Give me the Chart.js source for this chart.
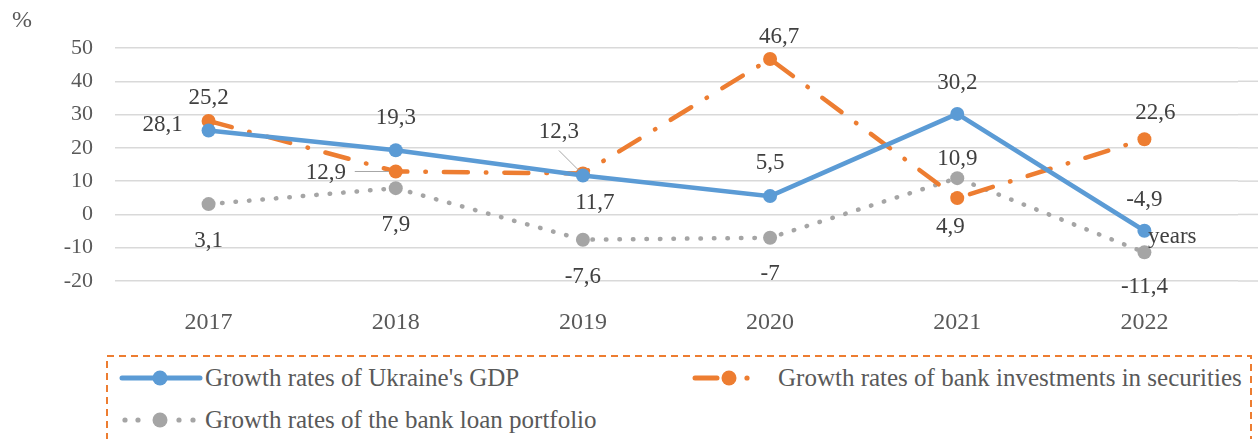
<!DOCTYPE html>
<html>
<head>
<meta charset="utf-8">
<script src="https://cdn.jsdelivr.net/npm/chart.js@4.4.0/dist/chart.umd.min.js"></script>
<style>
  html, body { margin: 0; padding: 0; background: #fff; }
  #wrap { position: relative; width: 1258px; height: 439px; overflow: hidden; }
  #chartBox { position: absolute; left: 0; top: 0; width: 1258px; height: 350px; }
  #pct { position: absolute; left: 12px; top: 6px; font-family: 'Liberation Serif', 'Times New Roman', serif; font-size: 24px; color: #595959; }
  #legend { position: absolute; left: 106px; top: 355px; width: 1146px; height: 120px; }
  #legend .frame { position: absolute; left: 0; top: 0; }
  .item { position: absolute; height: 30px; font-family: 'Liberation Serif', 'Times New Roman', serif; font-size: 25px; color: #595959; line-height: 30px; white-space: nowrap; }
  .item svg { position: absolute; top: 0; }
  .item span { position: absolute; top: 0; }
</style>
</head>
<body>
<div id="wrap">
  <div id="chartBox"><canvas id="chart"></canvas></div>
  <div id="pct">%</div>
  <div id="legend">
    <svg class="frame" width="1146" height="120"><rect x="1" y="1" width="1144" height="200" fill="none" stroke="#ed7d31" stroke-width="2" stroke-dasharray="7 5"/></svg>
    <div class="item" style="left:2px;top:8px;width:500px;">
      <svg width="98" height="30"><line x1="14" y1="15" x2="92" y2="15" stroke="#5b9bd5" stroke-width="5" stroke-linecap="round"/><circle cx="52" cy="15" r="7.5" fill="#5b9bd5"/></svg>
      <span style="left:97px;">Growth rates of Ukraine's GDP</span>
    </div>
    <div class="item" style="left:577px;top:8px;width:566px;">
      <svg width="90" height="30"><line x1="12" y1="15" x2="34" y2="15" stroke="#ed7d31" stroke-width="5" stroke-linecap="round"/><circle cx="46" cy="15" r="7.5" fill="#ed7d31"/><circle cx="64" cy="15" r="2.6" fill="#ed7d31"/></svg>
      <span style="left:95px;">Growth rates of bank investments in securities</span>
    </div>
    <div class="item" style="left:2px;top:50px;width:500px;">
      <svg width="98" height="30"><circle cx="17" cy="15" r="2.6" fill="#a5a5a5"/><circle cx="30" cy="15" r="2.6" fill="#a5a5a5"/><circle cx="52" cy="15" r="7.5" fill="#a5a5a5"/><circle cx="71" cy="15" r="2.6" fill="#a5a5a5"/><circle cx="85" cy="15" r="2.6" fill="#a5a5a5"/></svg>
      <span style="left:97px;">Growth rates of the bank loan portfolio</span>
    </div>
  </div>
</div>
<script>
const years = ["2017", "2018", "2019", "2020", "2021", "2022"];
const gdpGrowth = [25.2, 19.3, 11.7, 5.5, 30.2, -4.9];
const securitiesGrowth = [28.1, 12.9, 12.3, 46.7, 4.9, 22.6];
const loanGrowth = [3.1, 7.9, -7.6, -7, 10.9, -11.4];
const yTicks = [-20, -10, 0, 10, 20, 30, 40, 50];

const serif = "'Liberation Serif', 'Times New Roman', serif";

// label offsets from each point, px
const labelOffsets = [
    [[0, -33], [0, -32], [12, 27], [0, -33], [0, -31], [0, -31]],
    [[-46, 4], [-70, 1], [-24, -42], [9, -22], [-7, 29], [11, -26]],
    [[0, 37], [0, 37], [0, 37], [0, 36], [0, -19], [0, 35]]
];
// leader lines: [dataset, index, fromDx, fromDy, toDx, toDy]
const leaders = [
    [1, 1, -41, 0, -7, 0],
    [1, 2, -24, -23, -4, -3]
];

// gridlines run on to the right edge of the picture
const gridRunOn = {
    id: "gridRunOn",
    beforeDatasetsDraw(chart) {
        const ctx = chart.ctx;
        const y = chart.scales.y;
        ctx.save();
        ctx.strokeStyle = "#d9d9d9";
        ctx.lineWidth = 1.5;
        y.ticks.forEach(t => {
            const py = y.getPixelForValue(t.value);
            ctx.beginPath();
            ctx.moveTo(chart.chartArea.right, py);
            ctx.lineTo(chart.width, py);
            ctx.stroke();
        });
        ctx.restore();
    }
};

const valueLabels = {
    id: "valueLabels",
    afterDatasetsDraw(chart) {
        const ctx = chart.ctx;
        ctx.save();
        ctx.strokeStyle = "#a6a6a6";
        ctx.lineWidth = 1;
        leaders.forEach(l => {
            const p = chart.getDatasetMeta(l[0]).data[l[1]];
            ctx.beginPath();
            ctx.moveTo(p.x + l[2], p.y + l[3]);
            ctx.lineTo(p.x + l[4], p.y + l[5]);
            ctx.stroke();
        });
        ctx.font = "23px " + serif;
        ctx.fillStyle = "#404040";
        ctx.textAlign = "center";
        ctx.textBaseline = "middle";
        chart.data.datasets.forEach((ds, i) => {
            chart.getDatasetMeta(i).data.forEach((p, j) => {
                const off = labelOffsets[i][j];
                ctx.fillText(String(ds.data[j]).replace(".", ","), p.x + off[0], p.y + off[1]);
            });
        });
        // axis title at the right end
        const y0 = chart.scales.y.getPixelForValue(0);
        ctx.textAlign = "left";
        ctx.fillText("years", chart.chartArea.right - 90, y0 + 23);
        ctx.restore();
    }
};

const ctx = document.getElementById("chart").getContext("2d");

new Chart(ctx, {
    type: "line",
    data: {
        labels: years,
        datasets: [
            {
                label: "Growth rates of Ukraine's GDP",
                data: gdpGrowth,
                borderColor: "#5b9bd5",
                backgroundColor: "#5b9bd5",
                borderWidth: 4.5,
                pointRadius: 7,
                pointBorderWidth: 0,
                tension: 0
            },
            {
                label: "Growth rates of bank investments in securities",
                data: securitiesGrowth,
                borderColor: "#ed7d31",
                backgroundColor: "#ed7d31",
                borderWidth: 4.5,
                borderDash: [24, 18, 0.5, 18],
                borderCapStyle: "round",
                pointRadius: 7,
                pointBorderWidth: 0,
                tension: 0
            },
            {
                label: "Growth rates of the bank loan portfolio",
                data: loanGrowth,
                borderColor: "#a5a5a5",
                backgroundColor: "#a5a5a5",
                borderWidth: 4.5,
                borderDash: [0.5, 13],
                borderCapStyle: "round",
                pointRadius: 7,
                pointBorderWidth: 0,
                tension: 0
            }
        ]
    },
    options: {
        responsive: true,
        maintainAspectRatio: false,
        animation: false,
        layout: { padding: { top: 48, right: 20, left: 0, bottom: 0 } },
        plugins: {
            legend: { display: false },
            tooltip: { enabled: false }
        },
        scales: {
            x: {
                offset: true,
                grid: { display: false },
                border: { display: false },
                ticks: {
                    color: "#595959",
                    font: { family: serif, size: 24 },
                    padding: 19
                },
                afterFit: (scale) => { scale.height = 69; }
            },
            y: {
                min: -20,
                max: 50,
                afterBuildTicks: (scale) => { scale.ticks = yTicks.map(v => ({ value: v })); },
                grid: { color: "#d9d9d9", lineWidth: 1.5, drawTicks: false },
                border: { display: false },
                ticks: {
                    color: "#595959",
                    font: { family: serif, size: 22 },
                    padding: 22,
                    callback: (value) => String(value)
                },
                afterFit: (scale) => { scale.width = 115; }
            }
        }
    },
    plugins: [gridRunOn, valueLabels]
});
</script>
</body>
</html>
